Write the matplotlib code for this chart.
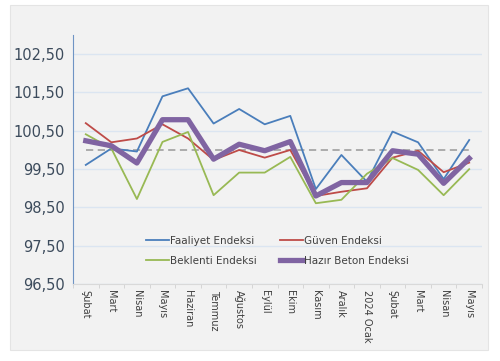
import numpy as np
import matplotlib.pyplot as plt
from matplotlib.patches import Rectangle

months = ["Şubat", "Mart", "Nisan", "Mayıs", "Haziran", "Temmuz", "Ağustos", "Eylül",
          "Ekim", "Kasım", "Aralık", "2024 Ocak", "Şubat", "Mart", "Nisan", "Mayıs"]

faaliyet = [99.61, 100.04, 99.96, 101.40, 101.61, 100.69, 101.07, 100.67,
            100.89, 98.98, 99.87, 99.17, 100.48, 100.20, 99.24, 100.26]
guven = [100.70, 100.20, 100.30, 100.67, 100.30, 99.74, 100.00, 99.80,
         100.00, 98.80, 98.91, 99.00, 99.80, 99.98, 99.42, 99.67]
beklenti = [100.41, 100.04, 98.72, 100.21, 100.47, 98.82, 99.41, 99.41,
            99.82, 98.61, 98.70, 99.38, 99.79, 99.48, 98.82, 99.50]
hazir_beton = [100.24, 100.11, 99.66, 100.79, 100.79, 99.76, 100.15, 99.98,
               100.22, 98.80, 99.15, 99.15, 99.98, 99.89, 99.13, 99.78]
esik = [100.0] * len(months)

yticks = [96.5, 97.5, 98.5, 99.5, 100.5, 101.5, 102.5]
ytick_labels = ["96,50", "97,50", "98,50", "99,50", "100,50", "101,50", "102,50"]

fig = plt.figure(figsize=(5.0, 3.61), dpi=100)
fig.patches.append(Rectangle((0.02, 0.03), 0.956, 0.956, transform=fig.transFigure,
                             facecolor="#f2f2f2", edgecolor="#e4e4e4", lw=0.8, zorder=-1))
ax = fig.add_axes([0.146, 0.213, 0.818, 0.69])
ax.set_facecolor("none")

x = np.arange(len(months))
ax.plot(x, esik, color="#a6a6a6", lw=1.3, ls=(0, (4, 2.5)), zorder=2)
l1, = ax.plot(x, faaliyet, color="#4a7ebb", lw=1.3, label="Faaliyet Endeksi", zorder=3)
l2, = ax.plot(x, guven, color="#be4b48", lw=1.3, label="Güven Endeksi", zorder=3)
l3, = ax.plot(x, beklenti, color="#98b954", lw=1.3, label="Beklenti Endeksi", zorder=3)
l4, = ax.plot(x, hazir_beton, color="#8064a2", lw=3.8, label="Hazır Beton Endeksi", zorder=4)

ax.set_xlim(-0.5, len(months) - 0.5)
ax.set_ylim(96.5, 103.0)
ax.set_yticks(yticks)
ax.set_yticklabels(ytick_labels)
ax.yaxis.grid(True, color="#dbe5f1", lw=1)
ax.set_axisbelow(True)

ax.set_xticks(x)
ax.set_xticklabels(months, rotation=-90, fontsize=7, color="#404040")
ax.set_xticks(np.arange(-0.5, len(months), 1), minor=True)
ax.tick_params(axis="x", which="major", length=0, pad=4)
ax.tick_params(axis="x", which="minor", length=3, color="#d0d0d0")
ax.tick_params(axis="y", length=0, labelsize=10.5, labelcolor="#3c4b5c", pad=6)

for s in ["top", "right"]:
    ax.spines[s].set_visible(False)
ax.spines["left"].set_color("#6f94c4")
ax.spines["bottom"].set_color("#d9d9d9")

handles = [l1, l3, l2, l4]
ax.legend(handles, [h.get_label() for h in handles], loc="lower left",
          bbox_to_anchor=(0.155, 0.035), ncol=2, frameon=False,
          fontsize=7.5, handlelength=2.2, handletextpad=0.1, columnspacing=2.3,
          labelspacing=1.0, labelcolor="#404040")

fig.savefig("out.png", dpi=100)
